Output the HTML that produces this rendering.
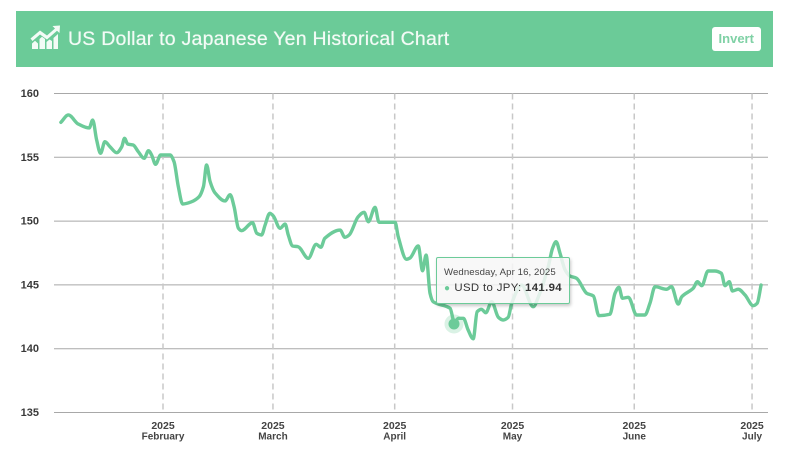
<!DOCTYPE html>
<html lang="en">
<head>
<meta charset="utf-8">
<title>US Dollar to Japanese Yen Historical Chart</title>
<style>
html,body{margin:0;padding:0;background:#fff;width:800px;height:450px;overflow:hidden}
body{font-family:"Liberation Sans",sans-serif;position:relative}
#header{position:absolute;left:16px;top:11px;width:757px;height:55.5px;background:#6bcb98}
#title{position:absolute;left:52px;top:15.5px;font-size:19.5px;line-height:24px;color:#f3fbf6;white-space:nowrap;letter-spacing:.23px;text-shadow:0 0 .6px #f3fbf6}
#icon{position:absolute;left:14px;top:14px}
#invert{position:absolute;left:696px;top:15.5px;width:48.5px;height:24.5px;background:#fff;border:0;border-radius:3px;padding:0;color:#7fd1a5;font:bold 13px/24px "Liberation Sans",sans-serif;text-align:center}
#chart{position:absolute;left:0;top:0}
#tip{position:absolute;box-sizing:border-box;width:134px;height:47px;background:rgba(247,247,247,.85);border:1px solid #6ccb99;border-radius:2px;box-shadow:1px 2px 3px rgba(0,0,0,.22);color:#333;white-space:nowrap}
#tip-date{position:absolute;left:7px;top:8.5px;font-size:9.6px;line-height:12px;color:#444;letter-spacing:.1px}
#tip-row{position:absolute;left:7px;top:23px;font-size:11.4px;line-height:14px;letter-spacing:.35px}
#tip-row b{color:#333}
#tip-bullet{color:#6ccb99;font-size:10px;margin-right:4px}
</style>
</head>
<body>
<div id="header">
  <svg id="icon" width="31" height="25" viewBox="0 0 31 25">
    <g fill="#f3fbf6">
      <path d="M0.5 13.5 L10 5.5 L17 10.5 L25 3.5 L22.5 1 L30 0.5 L29.5 8 L27 5.8 L17 14.5 L10 9.5 L2.5 16 Z"/>
      <path d="M2 24 V18.5 L5 15.8 L8 18.5 V24 Z"/>
      <path d="M9.5 24 V14 L12 11.8 L15 14 V24 Z"/>
      <path d="M16.5 24 V17 L19.5 14.5 L22 16 V24 Z"/>
      <path d="M23.5 24 V13 L28 9 V24 Z"/>
    </g>
  </svg>
  <div id="title">US Dollar to Japanese Yen Historical Chart</div>
  <button id="invert">Invert</button>
</div>
<svg id="chart" width="800" height="450" xmlns="http://www.w3.org/2000/svg"></svg>
<div id="tip">
  <div id="tip-date">Wednesday, Apr 16, 2025</div>
  <div id="tip-row"><span id="tip-bullet">●</span>USD to JPY: <b id="tip-val">141.94</b></div>
</div>
<script>
const seriesName = "USD to JPY";
const yTicks = [160, 155, 150, 145, 140, 135];
const monthLabels = ["February", "March", "April", "May", "June", "July"];
const monthYears = ["2025", "2025", "2025", "2025", "2025", "2025"];
const monthDays = [31, 59, 90, 120, 151, 181];
const days = [5.0,6.9,9.4,12.2,13.1,14.1,15.1,16.2,17.5,19.2,20.5,21.2,22.0,23.4,24.7,26.2,27.3,28.1,29.1,30.4,32.8,33.8,34.9,36.0,38.3,40.2,41.3,42.1,43.0,44.2,46.8,48.1,49.1,50.2,51.0,53.8,54.9,56.1,57.0,58.2,59.1,60.8,62.1,62.9,64.0,65.4,68.0,70.0,71.2,72.2,76.1,77.3,78.4,80.7,82.2,83.3,85.0,86.0,90.1,90.9,93.0,93.9,96.0,97.1,98.0,99.0,99.8,104.1,104.8,105.1,106.2,107.5,108.7,110.0,111.0,112.1,113.2,114.7,116.4,117.6,118.9,119.8,122.3,125.3,126.6,129.1,130.2,131.1,132.1,133.4,134.6,136.3,138.9,140.6,142.0,144.8,146.1,147.1,148.0,149.5,151.6,153.7,155.0,156.3,159.2,160.5,162.2,163.1,166.0,167.1,168.2,169.8,171.5,173.2,174.1,175.2,176.0,177.5,179.2,181.3,182.3,183.3];
const rates = [157.74,158.32,157.61,157.30,157.92,156.36,155.31,156.22,155.83,155.36,155.83,156.49,156.04,155.96,155.44,154.92,155.52,155.18,154.45,155.18,155.18,154.66,152.70,151.34,151.52,151.91,152.70,154.40,153.09,152.23,151.58,152.07,151.13,149.44,149.25,149.87,149.04,148.91,149.69,150.61,150.40,149.44,149.77,148.91,148.05,147.99,147.08,148.18,147.95,148.65,149.30,148.73,148.91,150.34,150.69,149.95,151.08,149.91,149.91,148.78,147.01,147.11,148.05,146.11,147.34,144.34,143.68,143.17,142.38,141.94,142.38,142.38,141.47,140.78,142.90,143.09,142.82,143.68,142.46,142.25,142.46,143.56,144.99,143.29,144.07,146.43,147.87,148.39,147.48,146.17,145.70,145.52,144.34,144.13,142.59,142.70,144.34,144.81,143.95,144.03,142.64,142.64,143.56,144.86,144.66,144.86,143.50,144.07,144.73,145.25,144.94,146.09,146.09,145.91,144.94,145.25,144.52,144.66,144.21,143.37,143.56,144.99];
const hoverIndex = 69;

const xScale = d => 163 + (d - 31) * 3.927;
const yScale = v => 93.5 + (160 - v) * 12.76;
const NS = "http://www.w3.org/2000/svg";
const svg = document.getElementById("chart");
function make(tag, attrs, text) {
  const el = document.createElementNS(NS, tag);
  for (const k in attrs) el.setAttribute(k, attrs[k]);
  if (text !== undefined) el.textContent = text;
  svg.appendChild(el);
  return el;
}
yTicks.forEach(t => {
  const g = make("line", {x1: 54, x2: 768, y1: yScale(t), y2: yScale(t), stroke: "#a8a8a8", "stroke-width": 1});
  
  
  const l = make("text", {x: 39, y: yScale(t) + 3.5, "text-anchor": "end", "font-size": 11, "font-weight": "bold", fill: "#3a3a3a", "font-family": "Liberation Sans, sans-serif"}, t);
  
  
});
monthDays.forEach((d, i) => {
  const x = xScale(d);
  const g = make("line", {x1: x, x2: x, y1: yScale(160), y2: yScale(135), stroke: "#c8c8c8", "stroke-width": 1.5, "stroke-dasharray": "6 4"});
  
  
  const a = make("text", {x: x, y: 429, "text-anchor": "middle", "font-size": 10.5, fill: "#444", "font-weight": "bold", "font-family": "Liberation Sans, sans-serif"}, monthYears[i]);
  
  
  const b = make("text", {x: x, y: 439.5, "text-anchor": "middle", "font-size": 10, "font-weight": "bold", fill: "#444", "font-family": "Liberation Sans, sans-serif"}, monthLabels[i]);
  
  
});
const pts = days.map((d, i) => [xScale(d), yScale(rates[i])]);
const tangents = pts.map((p, i) => {
  if (i === 0) return (pts[1][1] - p[1]) / (pts[1][0] - p[0]);
  if (i === pts.length - 1) return (p[1] - pts[i - 1][1]) / (p[0] - pts[i - 1][0]);
  const a = (p[1] - pts[i - 1][1]) / (p[0] - pts[i - 1][0]);
  const b = (pts[i + 1][1] - p[1]) / (pts[i + 1][0] - p[0]);
  if (a * b <= 0) return 0;
  return 2 * a * b / (a + b);
});
let path = "M" + pts[0][0].toFixed(2) + " " + pts[0][1].toFixed(2);
for (let i = 0; i < pts.length - 1; i++) {
  const p1 = pts[i], p2 = pts[i + 1], h = (p2[0] - p1[0]) / 3;
  path += "C" + (p1[0] + h).toFixed(2) + " " + (p1[1] + tangents[i] * h).toFixed(2) + " " + (p2[0] - h).toFixed(2) + " " + (p2[1] - tangents[i + 1] * h).toFixed(2) + " " + p2[0].toFixed(2) + " " + p2[1].toFixed(2);
}
const line = make("path", {d: path, fill: "none", stroke: "#6ccb99", "stroke-width": 3.4, "stroke-linejoin": "round", "stroke-linecap": "round"});


const hx = xScale(days[hoverIndex]), hy = yScale(rates[hoverIndex]);
const halo = make("circle", {cx: hx, cy: hy, r: 9.5, fill: "#6ccb99", opacity: 0.25});


const dot = make("circle", {cx: hx, cy: hy, r: 5.5, fill: "#6ccb99"});


const tip = document.getElementById("tip");
tip.style.left = (hx - 18) + "px";
tip.style.top = (hy - 66.5) + "px";
document.getElementById("tip-val").textContent = rates[hoverIndex].toFixed(2);
</script>
</body>
</html>
